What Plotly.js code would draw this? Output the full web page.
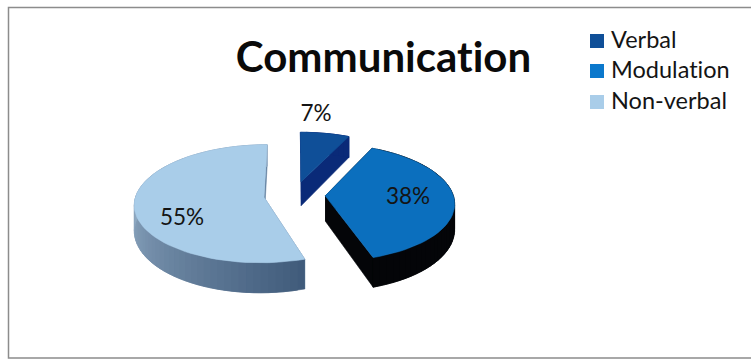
<!DOCTYPE html>
<html>
<head>
<meta charset="utf-8">
<script src="https://cdn.plot.ly/plotly-3.0.1.min.js"></script>
<style>
html,body{margin:0;padding:0;background:#fff}
#chart{width:751px;height:360px}
#chart text{font-variant-ligatures:none !important;font-feature-settings:"liga" 0,"clig" 0 !important;letter-spacing:.01px}
</style>
</head>
<body>
<div id="chart"></div>
<script>
// Chart content
const categories = ["Verbal", "Modulation", "Non-verbal"];
const shares = [7, 38, 55];
const chartTitle = "Communication";

// Styling per slice
const topColors = ["#0F4F98", "#0B6FBE", "#A9CDE9"];
const faceColors = ["#0A2A78", "#040508", "#5F7E9E"];
const wallFrom = ["#0A2A78", "#040508", "#3F5A7A"];
const wallTo = ["#0A2A78", "#040508", "#8FA9C2"];
const swatchColors = ["#0F4F98", "#0B78CC", "#A9CDE9"];

// Percentage label and legend placement, in page pixels
const labelX = [316, 408, 182];
const labelY = [115, 198, 219];
const legendX = 597, legendY = [41, 71, 102], legendTextX = 611, legendTextDrop = 1;

// Projection of the tilted, exploded pie
const cx = 294.5, cy = 195, radiusX = 128, radiusY = 57.8;
const perspective = 0.111, explode = 0.24, thickness = 25, arcStep = 3;

function project(X, Y, drop) {
  const s = 1 / (1 - perspective * Y);
  return [cx + radiusX * X * s, cy + radiusY * Y * s + (drop ? thickness * Math.pow(s, 1.5) : 0)];
}
function hex(c) { return [1, 3, 5].map(i => parseInt(c.substr(i, 2), 16)); }
function mix(a, b, t) {
  const A = hex(a), B = hex(b);
  return "rgb(" + A.map((v, i) => Math.round(v + (B[i] - v) * t)).join(",") + ")";
}
function poly(points, color) {
  return {
    type: "scatter", mode: "lines", fill: "toself", fillcolor: color,
    x: points.map(p => p[0]), y: points.map(p => p[1]),
    line: { color: color, width: 0.6 }, hoverinfo: "skip", showlegend: false
  };
}

const total = shares.reduce((a, b) => a + b, 0);
const walls = [], faces = [], tops = [];
let start = 0;
shares.forEach((v, i) => {
  const sweep = v / total * 360, a0 = start, a1 = start + sweep, mid = (a0 + a1) / 2;
  const rad = d => d * Math.PI / 180;
  const ex = explode * Math.sin(rad(mid)), ey = -explode * Math.cos(rad(mid));
  const rim = d => [ex + Math.sin(rad(d)), ey - Math.cos(rad(d))];
  const n = Math.max(2, Math.ceil(sweep / arcStep));
  const angles = Array.from({ length: n + 1 }, (_, k) => a0 + sweep * k / n);

  // Outer wall, shaded along the arc; each band runs on under the next to hide seams
  for (let k = 0; k < n; k++) {
    const band = angles.slice(k, k + 3);
    const upper = band.map(d => { const p = rim(d); return project(p[0], p[1]); });
    const lower = band.map(d => { const p = rim(d); return project(p[0], p[1], true); }).reverse();
    const t = Math.max(0, Math.min(1, (angles[k] - 160) / 110));
    walls.push(poly(upper.concat(lower), mix(wallFrom[i], wallTo[i], t)));
  }
  // Cut faces
  [a0, a1].forEach(d => {
    const p = rim(d);
    faces.push(poly([project(ex, ey), project(p[0], p[1]), project(p[0], p[1], true), project(ex, ey, true)], faceColors[i]));
  });
  // Top surface
  const outline = [project(ex, ey)].concat(angles.map(d => { const p = rim(d); return project(p[0], p[1]); }));
  outline.push(project(ex, ey));
  tops.push(poly(outline, topColors[i]));
  start = a1;
});

const labels = {
  type: "scatter", mode: "text", x: labelX, y: labelY,
  text: shares.map(v => v + "%"), textposition: "middle center",
  textfont: { family: "Lato, sans-serif", size: 22.5, color: "#141414" },
  hoverinfo: "skip", showlegend: false
};
const legendSwatches = {
  type: "scatter", mode: "markers", x: legendY.map(() => legendX), y: legendY,
  marker: { symbol: "square", size: 14, color: swatchColors },
  hoverinfo: "skip", showlegend: false
};
const legendLabels = {
  type: "scatter", mode: "text", x: legendY.map(() => legendTextX), y: legendY.map(y => y + legendTextDrop),
  text: categories, textposition: "middle right",
  textfont: { family: "Lato, sans-serif", size: 23.5, color: "#141414" },
  hoverinfo: "skip", showlegend: false
};

const layout = {
  width: 751, height: 360, margin: { l: 0, r: 0, t: 0, b: 0 },
  paper_bgcolor: "#ffffff", plot_bgcolor: "#ffffff", showlegend: false,
  title: {
    text: "<b>" + chartTitle + "</b>", x: 0.5107, xanchor: "center", y: 0.84, yanchor: "middle",
    font: { family: "Lato, sans-serif", size: 42, color: "#0A0A0A" }
  },
  xaxis: { range: [0, 751], visible: false, fixedrange: true },
  yaxis: { range: [360, 0], visible: false, fixedrange: true },
  shapes: [{
    type: "path", path: "M 770 7.5 L 8.5 7.5 L 8.5 358 L 770 358",
    line: { color: "#8C8C8C", width: 1.5 }
  }]
};

Plotly.newPlot("chart", faces.concat(walls, tops, [labels, legendSwatches, legendLabels]), layout,
  { displayModeBar: false, staticPlot: true });
</script>
</body>
</html>
